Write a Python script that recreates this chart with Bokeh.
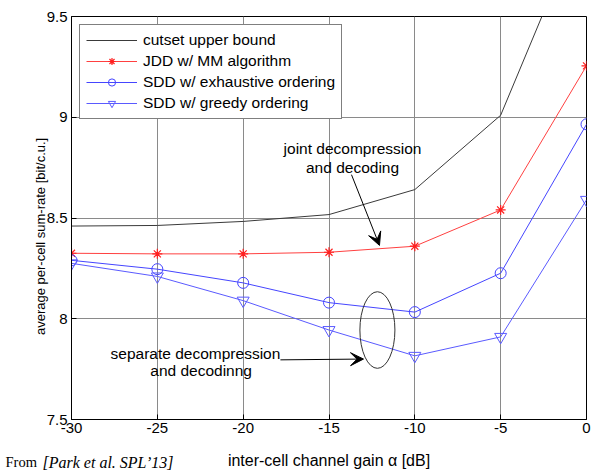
import math
from bokeh.plotting import figure
from bokeh.models import (Legend, LegendItem, Label, Arrow, VeeHead, FixedTicker, Range1d)
from bokeh.embed import file_html
from bokeh.resources import INLINE

# ---- data ----
alpha_db = [-30, -25, -20, -15, -10, -5, 0]
cutset = [8.46, 8.463, 8.483, 8.517, 8.641, 9.01, 10.03]
jdd_mm = [8.325, 8.322, 8.322, 8.33, 8.36, 8.54, 9.255]
sdd_exhaustive = [8.29, 8.246, 8.178, 8.08, 8.033, 8.226, 8.965]
sdd_greedy = [8.275, 8.21, 8.09, 7.944, 7.816, 7.91, 8.59]

x_ticks = [-30, -25, -20, -15, -10, -5, 0]
x_tick_labels = ["-30", "-25", "-20", "-15", "-10", "-5", "0"]
y_ticks = [7.5, 8, 8.5, 9, 9.5]
y_tick_labels = ["7.5", "8", "8.5", "9", "9.5"]

series_names = ["cutset upper bound", "JDD w/ MM algorithm",
                "SDD w/ exhaustive ordering", "SDD w/ greedy ordering"]
x_title = "inter-cell channel gain \u03b1 [dB]"
y_title = "average per-cell sum-rate [bit/c.u.]"
note_prefix = "From "
note_source = "[Park et al. SPL\u201913]"

FONT = "Liberation Sans"
W, H = 593, 470
ML, MR, MT, MB = 71, 7, 14, 51
FW, FH = W - ML - MR, H - MT - MB

p = figure(width=W, height=H, output_backend="svg", toolbar_location=None,
           x_range=Range1d(-30, 0), y_range=Range1d(7.5, 9.5),
           min_border_left=ML, min_border_right=MR, min_border_top=MT,
           min_border_bottom=MB)

p.background_fill_color = "white"
p.border_fill_color = "white"
p.outline_line_color = "black"
p.outline_line_width = 1

# axes
p.xaxis.ticker = FixedTicker(ticks=x_ticks)
p.yaxis.ticker = FixedTicker(ticks=y_ticks)
p.xaxis.major_label_overrides = {t: s for t, s in zip(x_ticks, x_tick_labels)}
p.yaxis.major_label_overrides = {t: s for t, s in zip(y_ticks, y_tick_labels)}
for ax in (p.xaxis, p.yaxis):
    ax.major_tick_in = 5
    ax.major_tick_out = 0
    ax.minor_tick_line_color = None
    ax.axis_line_color = "black"
    ax.major_tick_line_color = "black"
    ax.major_label_text_font = FONT
    ax.major_label_text_font_size = "15px"
    ax.major_label_text_color = "black"
p.xaxis.major_label_standoff = 3
p.yaxis.major_label_standoff = 4

p.grid.grid_line_color = "#8a8a8a"
p.grid.grid_line_width = 1

# series
r_cut = p.line(alpha_db, cutset, line_color="#3a3a3a", line_width=1)

r_jdd = p.line(alpha_db, jdd_mm, line_color="#ff4040", line_width=1)
m_jdd = p.scatter(alpha_db, jdd_mm, marker="asterisk", size=10,
                  line_color="#ff2020", line_width=1.2)

r_exh = p.line(alpha_db, sdd_exhaustive, line_color="#4545ff", line_width=1)
m_exh = p.scatter(alpha_db, sdd_exhaustive, marker="circle", size=11,
                  line_color="#4545ff", fill_color=None, line_width=1)

r_gr = p.line(alpha_db, sdd_greedy, line_color="#5a5aff", line_width=1)
m_gr = p.scatter(alpha_db, sdd_greedy, marker="inverted_triangle", size=12,
                 line_color="#5a5aff", fill_color=None, line_width=1)

legend = Legend(items=[
    LegendItem(label=series_names[0], renderers=[r_cut]),
    LegendItem(label=series_names[1], renderers=[r_jdd, m_jdd]),
    LegendItem(label=series_names[2], renderers=[r_exh, m_exh]),
    LegendItem(label=series_names[3], renderers=[r_gr, m_gr]),
], location="top_left")
legend.margin = 8
legend.padding = 6
legend.spacing = 3
legend.glyph_height = 18
legend.label_height = 18
legend.glyph_width = 51
legend.label_standoff = 6
legend.label_text_font = FONT
legend.label_text_font_size = "15.5px"
legend.label_text_color = "black"
legend.border_line_color = "black"
legend.border_line_width = 1
legend.background_fill_color = "white"
legend.background_fill_alpha = 1
p.add_layout(legend, "center")

# helpers: pixel position in the 593x470 picture -> data coordinates
def dx(px):
    return -30 + (px - ML) * 30.0 / FW

def dy(py):
    return 9.5 - (py - MT) * 2.0 / FH

# outer texts, placed in side panels so they are not clipped by the frame
p.add_layout(Label(x=dx(ML + FW / 2), y=dy(460), text=x_title,
                   text_align="center", text_baseline="alphabetic",
                   text_font=FONT, text_font_size="16px",
                   text_color="black"), "below")
p.add_layout(Label(x=dx(42), y=dy(462), text=note_source,
                   text_font="Liberation Serif", text_font_style="italic",
                   text_font_size="16px", text_color="black",
                   text_baseline="alphabetic"), "below")
p.add_layout(Label(x=dx(40), y=dy(235), text=y_title, text_align="center",
                   text_baseline="middle", angle=math.pi / 2, text_font=FONT,
                   text_font_size="13px", text_color="black"), "left")
p.add_layout(Label(x=dx(5), y=dy(462), text=note_prefix,
                   text_font="Liberation Serif", text_font_size="14.5px",
                   text_color="black", text_baseline="alphabetic"), "above")

# annotations: joint decompression
for txt, yy in (("joint decompression", 8.843), ("and decoding", 8.749)):
    p.add_layout(Label(x=-13.63, y=yy, text=txt, text_align="center",
                       text_baseline="middle", text_font=FONT,
                       text_font_size="15.5px", text_color="black"))
p.add_layout(Arrow(x_start=-13.69, y_start=8.715, x_end=-12.06, y_end=8.364,
                   line_color="black", line_width=1,
                   end=VeeHead(size=13, fill_color="black", line_color="black")))

# annotations: separate decompression
p.add_layout(Label(x=-22.78, y=7.826, text="separate decompression",
                   text_align="center", text_baseline="middle", text_font=FONT,
                   text_font_size="15.5px", text_color="black"))
p.add_layout(Label(x=-22.45, y=7.742, text="and decodinng",
                   text_align="center", text_baseline="middle", text_font=FONT,
                   text_font_size="15.5px", text_color="black"))
p.add_layout(Arrow(x_start=-17.83, y_start=7.796, x_end=-12.99, y_end=7.80,
                   line_color="black", line_width=1,
                   end=VeeHead(size=13, fill_color="black", line_color="black")))
p.ellipse(x=[-12.18], y=[7.944], width=[2.04], height=[0.38],
          fill_color=None, line_color="#333333", line_width=1)

open("out.html", "w").write(file_html(p, INLINE))
